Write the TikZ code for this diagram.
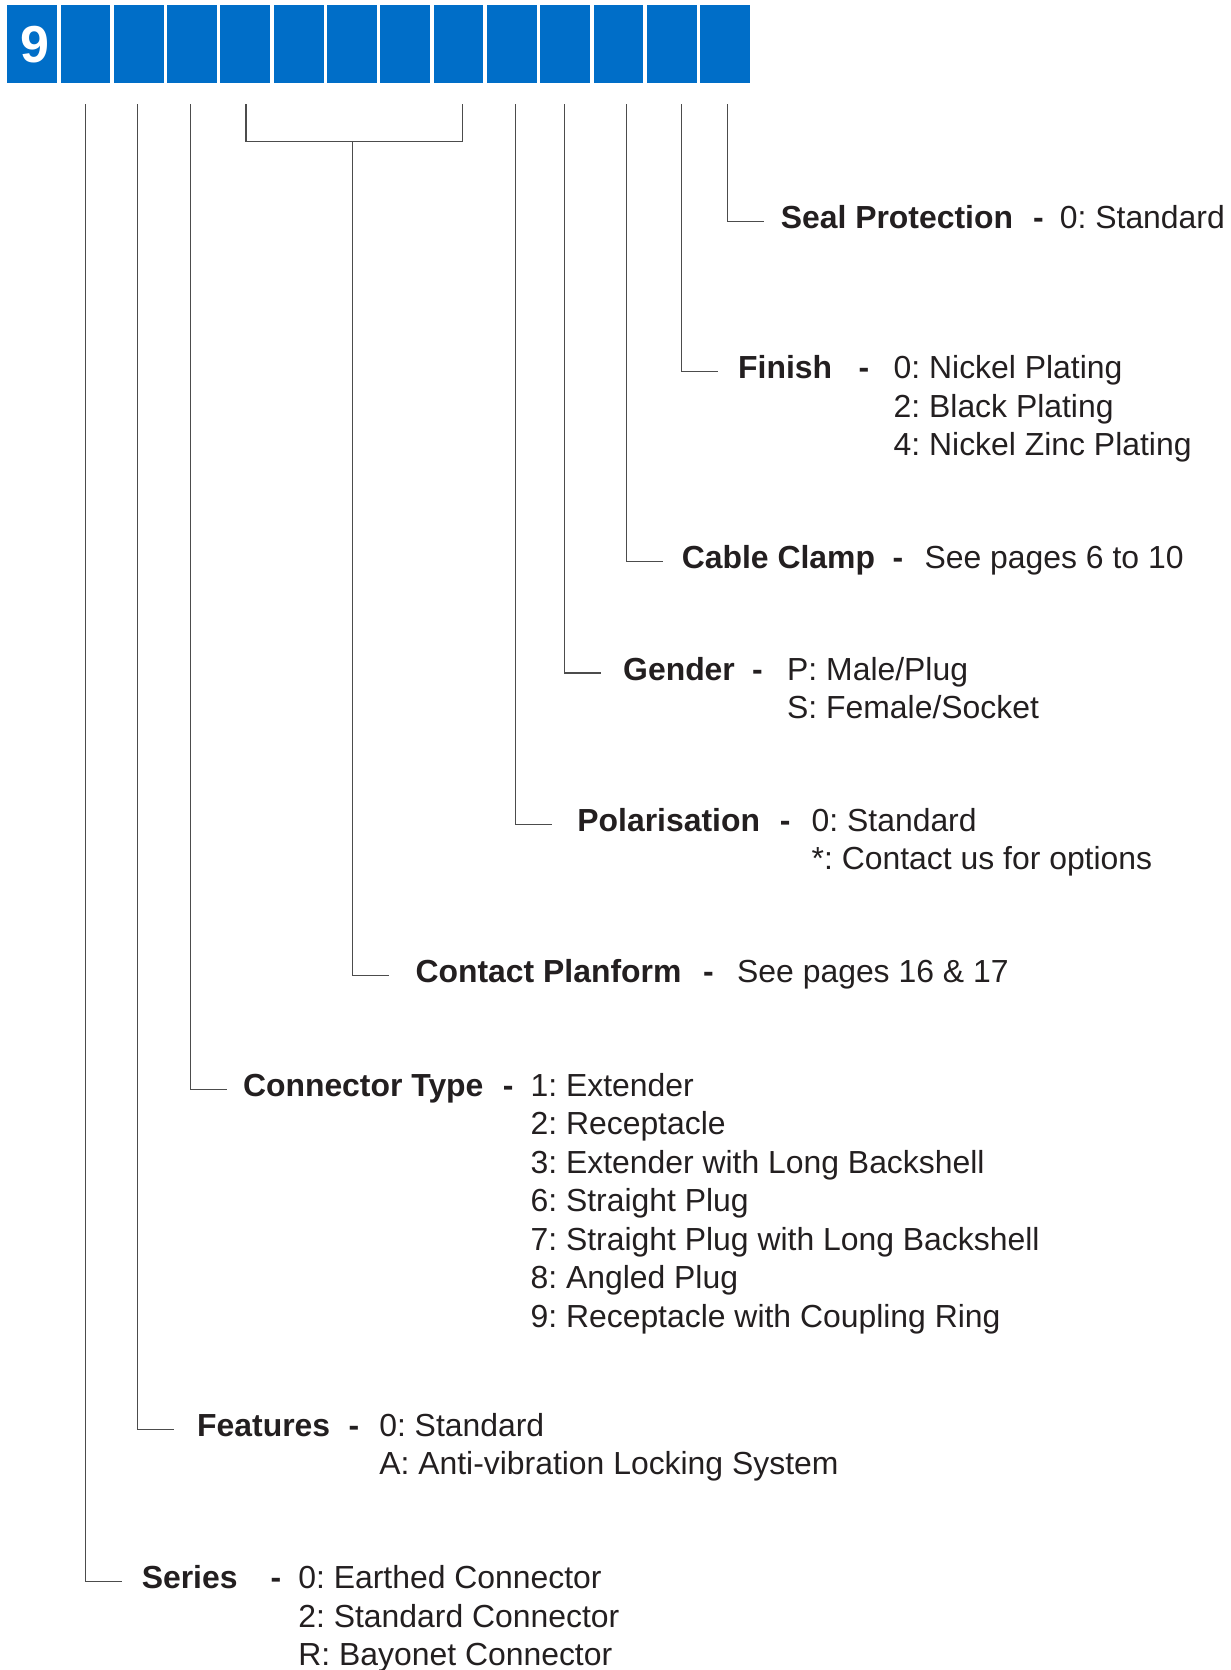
\documentclass[tikz,border=0pt]{standalone}
\usepackage{fontspec}
\setmainfont{Liberation Sans}
\usetikzlibrary{positioning}
\frenchspacing

\definecolor{codeblue}{HTML}{006EC8}
\definecolor{inkgrey}{HTML}{231F20}
\newcommand{\labelsize}{\fontsize{31.9}{38.5}\selectfont\frenchspacing}
\newcommand{\optlist}[1]{\begin{tabular}[t]{@{}l@{}}#1\end{tabular}}

\tikzset{
  digit/.style={fill=codeblue, minimum width=49.8pt, minimum height=77.7pt, inner sep=0pt, anchor=north west},
  leader/.style={draw=black!70, line width=1.2pt},
  field/.style={anchor=base west, inner sep=0pt, font=\labelsize\bfseries, text=inkgrey},
  opts/.style={anchor=base west, inner sep=0pt, font=\labelsize, text=inkgrey},
}

\begin{document}
\begin{tikzpicture}[x=1pt, y=-1pt]
        \useasboundingbox (0,0) rectangle (1231,1670);

        % Code boxes
        \foreach \i in {0,...,13}
          \node[digit] (b\i) at ({7+53.3*\i},5.3) {};
        \node[inner sep=0pt, font=\fontsize{52}{52}\selectfont\bfseries, text=white] (nine) at ([xshift=2.5pt]b0.center) {9};

        % Leader tops
        \coordinate (t1) at (85.2,104.4);
        \coordinate (t2) at (137.4,104.4);
        \coordinate (t3) at (190.6,104.4);
        \coordinate (t4) at (246,104.4);
        \coordinate (t8) at (462.2,104.4);
        \coordinate (t9) at (515.5,104.4);
        \coordinate (t10) at (564.5,104.4);
        \coordinate (t11) at (626.2,104.4);
        \coordinate (t12) at (681.6,104.4);
        \coordinate (t13) at (727.4,104.4);

        % Bracket for the planform boxes
        \coordinate (bl) at (246,141.6);
        \coordinate (br) at (462.2,141.6);
        \coordinate (bm) at (352.5,141.6);
        \draw[leader] (t4) -- (bl) -- (br) -- (t8);

        % Seal Protection
        \coordinate (e13) at (763.9,221.4);
        \draw[leader] (t13) |- (e13);
        \node[field] (seal) at (780.6,228.4) {Seal Protection};
        \node[field] (sealdash) at (1033,228.4) {-};
        \node[opts] (sealopts) at (1059.7,228.4) {0: Standard};

        % Finish
        \coordinate (e12) at (718.1,371.6);
        \draw[leader] (t12) |- (e12);
        \node[field] (finish) at (738,378.6) {Finish};
        \node[field] (finishdash) at (858.4,378.6) {-};
        \node[opts] (finishopts) at (893.5,378.6) {\optlist{0: Nickel Plating\\2: Black Plating\\4: Nickel Zinc Plating}};

        % Cable Clamp
        \coordinate (e11) at (662.7,561.2);
        \draw[leader] (t11) |- (e11);
        \node[field] (clamp) at (681.6,568.2) {Cable Clamp};
        \node[field] (clampdash) at (892.5,568.2) {-};
        \node[opts] (clampopts) at (924.4,568.2) {See pages 6 to 10};

        % Gender
        \coordinate (e10) at (601,673);
        \draw[leader] (t10) |- (e10);
        \node[field] (gender) at (623,680) {Gender};
        \node[field] (genderdash) at (752,680) {-};
        \node[opts] (genderopts) at (787,680) {\optlist{P: Male/Plug\\S: Female/Socket}};

        % Polarisation
        \coordinate (e9) at (552,824.2);
        \draw[leader] (t9) |- (e9);
        \node[field] (polar) at (577.2,831.2) {Polarisation};
        \node[field] (polardash) at (779.6,831.2) {-};
        \node[opts] (polaropts) at (811.5,831.2) {\optlist{0: Standard\\{*}: Contact us for options}};

        % Contact Planform
        \coordinate (e5) at (389,975.5);
        \draw[leader] (bm) |- (e5);
        \node[field] (planform) at (415.4,982.5) {Contact Planform};
        \node[field] (planformdash) at (703,982.5) {-};
        \node[opts] (planformopts) at (737,982.5) {See pages 16 \& 17};

        % Connector Type
        \coordinate (e3) at (227.1,1089.4);
        \draw[leader] (t3) |- (e3);
        \node[field] (ctype) at (242.8,1096.4) {Connector Type};
        \node[field] (ctypedash) at (502.7,1096.4) {-};
        \node[opts] (ctypeopts) at (530.4,1096.4) {\optlist{1: Extender\\2: Receptacle\\3: Extender with Long Backshell\\6: Straight Plug\\7: Straight Plug with Long Backshell\\8: Angled Plug\\9: Receptacle with Coupling Ring}};

        % Features
        \coordinate (e2) at (173.9,1429.2);
        \draw[leader] (t2) |- (e2);
        \node[field] (features) at (197,1436.2) {Features};
        \node[field] (featuresdash) at (348.3,1436.2) {-};
        \node[opts] (featuresopts) at (379.1,1436.2) {\optlist{0: Standard\\A: Anti-vibration Locking System}};

        % Series
        \coordinate (e1) at (121.7,1581.5);
        \draw[leader] (t1) |- (e1);
        \node[field] (series) at (141.6,1588.5) {Series};
        \node[field] (seriesdash) at (270.5,1588.5) {-};
        \node[opts] (seriesopts) at (298.2,1588.5) {\optlist{0: Earthed Connector\\2: Standard Connector\\R: Bayonet Connector}};
      \end{tikzpicture}
\end{document}
